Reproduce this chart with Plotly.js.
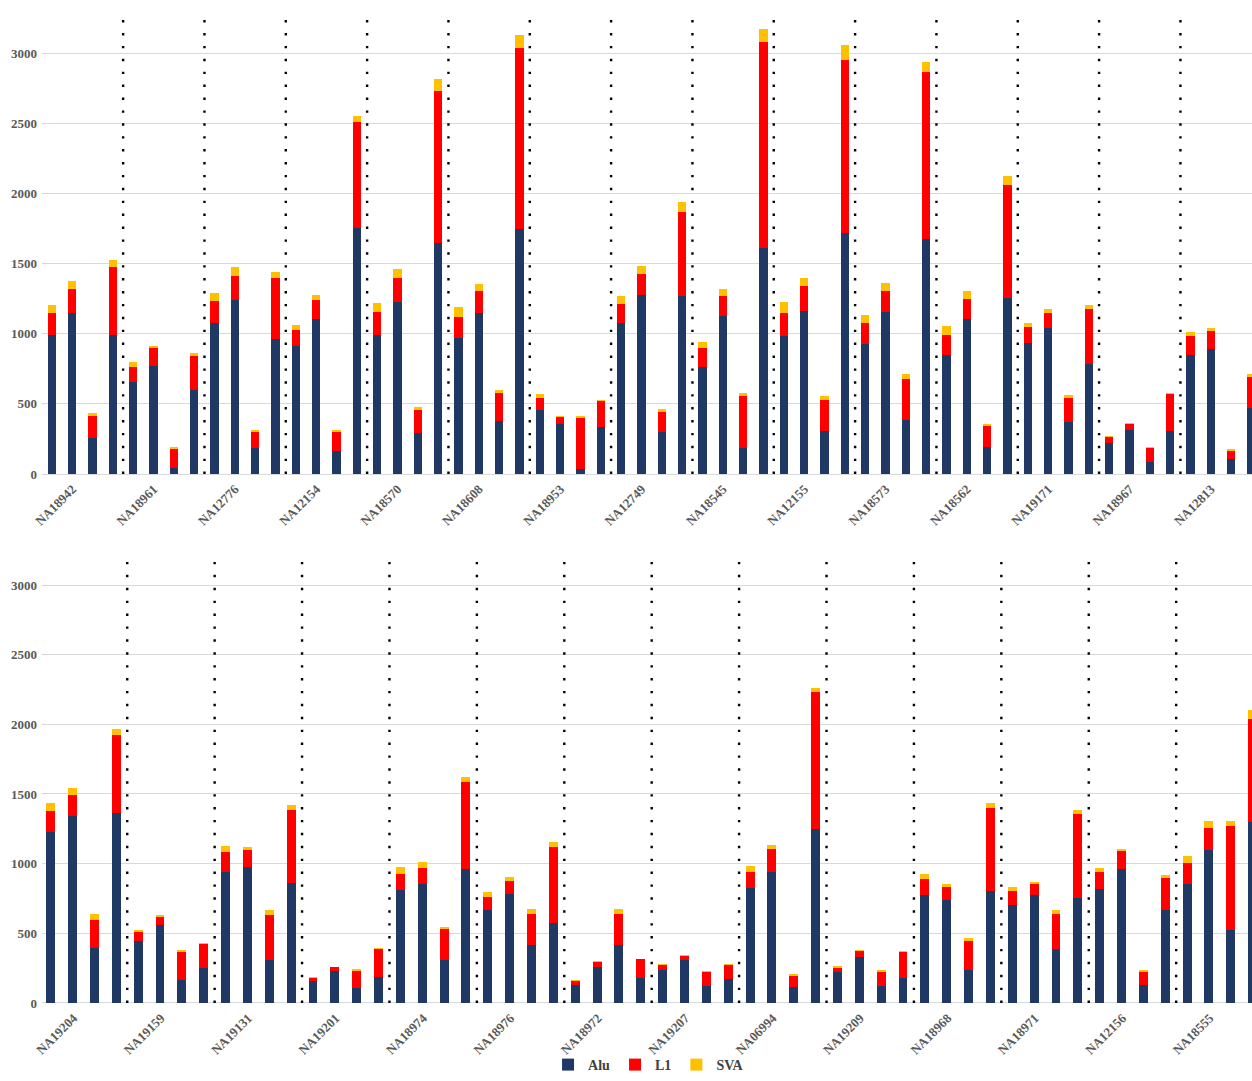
<!DOCTYPE html>
<html>
<head>
<meta charset="utf-8">
<script src="https://cdn.plot.ly/plotly-3.0.1.min.js"></script>
<style>
  html, body { margin: 0; padding: 0; background: #ffffff; }
  #chart { width: 1252px; height: 1081px; }
</style>
</head>
<body>
<div id="chart"></div>
<script>
// ---------- DATA ----------
const topSamples = ["NA18942","NA18961","NA12776","NA12154","NA18570","NA18608","NA18953","NA12749",
                    "NA18545","NA12155","NA18573","NA18562","NA19171","NA18967","NA12813"];
const topAlu = [990,1144,258,994, 656,767,46,596, 1074,1243,186,965, 910,1108,162,1752,
                989,1228,294,1646, 970,1149,379,1749, 454,355,36,333, 1079,1279,302,1272,
                760,1124,188,1614, 985,1161,306,1718, 924,1158,386,1675, 847,1103,195,1257,
                934,1040,374,782, 224,311,87,304, 849,888,104,471];
const topL1  = [155,176,159,478, 107,131,135,244, 157,169,111,430, 116,135,135,753,
                162,167,162,1086, 152,152,198,1289, 91,50,360,186, 132,147,140,596,
                138,148,367,1467, 159,176,225,1235, 155,143,290,1189, 147,142,145,799,
                113,106,167,391, 37,46,96,265, 131,128,60,222];
const topSVA = [60,53,17,55, 38,14,12,24, 62,60,17,48, 36,31,17,46,
                68,65,22,86, 68,55,21,92, 22,8,14,7, 61,56,21,67,
                45,43,24,87, 79,60,26,104, 55,58,38,73, 58,56,15,70,
                29,29,24,31, 7,10,12,10, 29,26,12,19];

const botSamples = ["NA19204","NA19159","NA19131","NA19201","NA18974","NA18976","NA18972","NA19207",
                    "NA06994","NA19209","NA18968","NA18971","NA12156","NA18555"];
const botAlu = [1225,1341,398,1361, 443,559,166,252, 943,975,307,864, 158,228,109,188,
                812,851,309,965, 668,782,416,574, 126,257,416,176, 240,307,121,171,
                822,941,114,1252, 220,332,119,181, 775,738,233,804, 703,772,384,752,
                819,963,131,668, 851,1099,525,1297];
const botL1  = [151,154,201,562, 67,57,200,174, 139,121,324,522, 23,27,119,201,
                116,117,221,621, 94,94,225,545, 35,38,225,138, 30,32,99,99,
                121,163,82,980, 32,42,106,188, 116,96,215,592, 101,82,252,604,
                124,131,94,230, 151,158,742,740];
const botSVA = [60,49,37,47, 17,13,15,7, 44,25,35,37, 7,5,15,5,
                47,42,17,35, 35,25,35,37, 7,9,35,5, 10,5,7,7,
                37,27,9,30, 10,7,10,7, 37,20,17,37, 25,17,30,32,
                27,10,10,18, 50,47,37,69];

const seriesNames  = ["Alu", "L1", "SVA"];
const seriesColors = ["#203864", "#FF0000", "#FFC000"];
const perGroup = 4;

// ---------- BUILD ----------
const FONT = "Liberation Serif, Times New Roman, serif";
function idx(arr){ return arr.map((_, i) => i); }

const traces = [];
const topSets = [topAlu, topL1, topSVA];
const botSets = [botAlu, botL1, botSVA];
seriesNames.forEach((name, s) => {
  traces.push({
    type: "bar", name: name, x: idx(topSets[s]), y: topSets[s],
    xaxis: "x", yaxis: "y", legendgroup: name, showlegend: true,
    marker: { color: seriesColors[s], line: { width: 0 } }, hoverinfo: "y+name"
  });
  traces.push({
    type: "bar", name: name, x: idx(botSets[s]), y: botSets[s],
    xaxis: "x2", yaxis: "y2", legendgroup: name, showlegend: false,
    marker: { color: seriesColors[s], line: { width: 0 } }, hoverinfo: "y+name"
  });
});

function groupCenters(samples){ return samples.map((_, g) => g * perGroup + (perGroup - 1) / 2); }
function separators(samples, xref){
  const out = [];
  for (let g = 0; g < samples.length - 1; g++) {
    const xv = g * perGroup + perGroup - 0.5;
    out.push({ type: "line", xref: xref, yref: (xref === "x" ? "y domain" : "y2 domain"),
      x0: xv, x1: xv, y0: 0, y1: 0.99,
      line: { color: "#000000", width: 2.4, dash: "2.4px,10.5px" }, layer: "above" });
  }
  return out;
}

const tickFont = { family: FONT, size: 13, color: "#595959", weight: "bold" };
const catFont  = { family: FONT, size: 13, color: "#595959", weight: "bold" };

const xCommon = { showgrid: false, zeroline: false, ticks: "", tickangle: -45, tickfont: catFont,
                  ticklabelshift: -10, ticklabelstandoff: 4,
                  showline: false, fixedrange: true };
const yCommon = { range: [0, 3270], tick0: 0, dtick: 500, showgrid: true, gridcolor: "#D9D9D9",
                  gridwidth: 1, zeroline: true, zerolinecolor: "#D9D9D9", zerolinewidth: 1,
                  ticks: "", tickfont: tickFont, ticklabelstandoff: 4, showline: false, fixedrange: true };

const layout = {
  width: 1252, height: 1081,
  margin: { l: 0, r: 0, t: 0, b: 0, autoexpand: false },
  paper_bgcolor: "#ffffff", plot_bgcolor: "#ffffff",
  barmode: "stack", bargap: 0.59,
  font: { family: FONT },
  xaxis: Object.assign({}, xCommon, { domain: [42/1252, 1], range: [-0.49, 59.02], anchor: "y",
           tickmode: "array", tickvals: groupCenters(topSamples), ticktext: topSamples }),
  yaxis: Object.assign({}, yCommon, { domain: [0.5615, 0.9860], anchor: "x" }),
  xaxis2: Object.assign({}, xCommon, { domain: [42/1252, 1], range: [-0.40, 54.97], anchor: "y2",
           tickmode: "array", tickvals: groupCenters(botSamples), ticktext: botSamples }),
  yaxis2: Object.assign({}, yCommon, { domain: [0.0722, 0.4936], anchor: "x2" }),
  shapes: separators(topSamples, "x").concat(separators(botSamples, "x2")),
  showlegend: true,
  legend: { orientation: "h", x: 0.518, xanchor: "center", y: 0, yanchor: "bottom",
            font: { family: FONT, size: 14, color: "#404040", weight: "bold" },
            itemwidth: 30, tracegroupgap: 0, bgcolor: "rgba(0,0,0,0)", traceorder: "normal" }
};

Plotly.newPlot("chart", traces, layout, { displayModeBar: false, staticPlot: true });
</script>
</body>
</html>
